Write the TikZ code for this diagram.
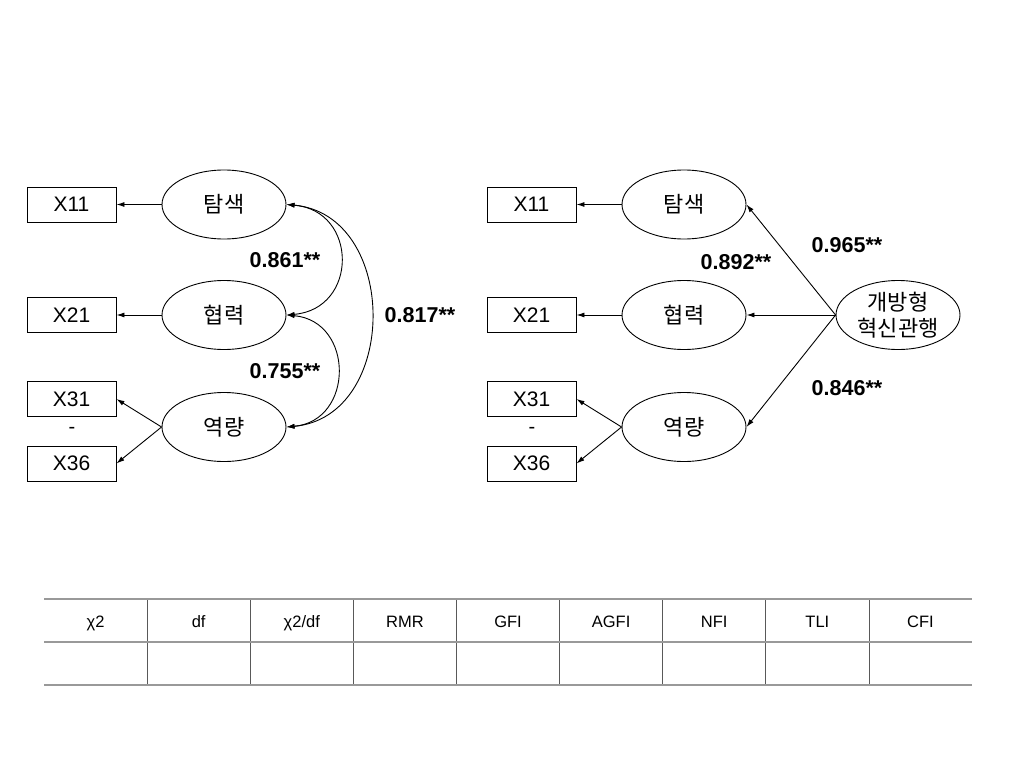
\documentclass[tikz,border=0pt]{standalone}
\usepackage{fontspec}
\setmainfont{Liberation Sans}
\newfontfamily\kr{Noto Sans CJK KR}
\usetikzlibrary{arrows.meta,shapes.geometric}
\begin{document}
\begin{tikzpicture}[x=1pt,y=-1pt,
 obs/.style={draw, line width=0.9pt, minimum width=89pt, minimum height=35pt, inner sep=0pt, font=\fontsize{21}{25}\selectfont},
 lat/.style={draw, ellipse, line width=0.9pt, minimum width=124pt, minimum height=69pt, inner sep=0pt, font=\kr\fontsize{22}{26}\selectfont},
 coef/.style={font=\bfseries\fontsize{21.5}{25}\selectfont, inner sep=0pt},
 arr/.style={line width=0.9pt, -{Latex[length=8pt,width=5pt]}},
 barr/.style={line width=0.9pt, {Latex[length=8pt,width=5pt]}-{Latex[length=8pt,width=5pt]}},
 hd/.style={font=\fontsize{16.5}{19}\selectfont, inner sep=0pt, text height=12pt, text depth=3.5pt},
 dashtxt/.style={font=\fontsize{20}{24}\selectfont, inner sep=0pt},
 hline/.style={draw=black!40, line width=1.4pt},
 vline/.style={draw=black!65, line width=0.7pt}
]
\useasboundingbox (0,0) rectangle (1024,768);

% ---------- left model ----------
\node[obs] (lx11) at (71.5,204.5) {X11};
\node[obs] (lx21) at (71.5,315) {X21};
\node[obs] (lx31) at (71.5,399) {X31};
\node[obs] (lx36) at (71.5,463.5) {X36};
\node[dashtxt] (ldash) at (72,430) {-};

\node[lat] (lt) at (224,204.5) {탐색};
\node[lat] (lh) at (224,315) {협력};
\node[lat] (ly) at (224,427) {역량};

\draw[arr] (lt.west) -- (lx11.east);
\draw[arr] (lh.west) -- (lx21.east);
\draw[arr] (ly.west) -- (lx31.east);
\draw[arr] (ly.west) -- (lx36.east);

\draw[barr] (lt.east) .. controls +(72,6) and +(72,-6) .. (lh.east);
\draw[barr] (lh.east) .. controls +(68,6) and +(68,-6) .. (ly.east);
\draw[barr] (lt.east) .. controls +(113,10) and +(113,-10) .. (ly.east);

\node[coef] (c861) at (285,260) {0.861**};
\node[coef] (c755) at (285,371) {0.755**};
\node[coef] (c817) at (420,315) {0.817**};

% ---------- right model ----------
\node[obs] (rx11) at (531.5,204.5) {X11};
\node[obs] (rx21) at (531.5,315) {X21};
\node[obs] (rx31) at (531.5,399) {X31};
\node[obs] (rx36) at (531.5,463.5) {X36};
\node[dashtxt] (rdash) at (532,430) {-};

\node[lat] (rt) at (684,204.5) {탐색};
\node[lat] (rh) at (684,315) {협력};
\node[lat] (ry) at (684,427) {역량};
\node[lat, align=center, font=\kr\fontsize{22}{26}\selectfont] (g) at (898,315) {개방형\\혁신관행};

\draw[arr] (rt.west) -- (rx11.east);
\draw[arr] (rh.west) -- (rx21.east);
\draw[arr] (ry.west) -- (rx31.east);
\draw[arr] (ry.west) -- (rx36.east);

\draw[arr] (g.west) -- (rt.east);
\draw[arr] (g.west) -- (rh.east);
\draw[arr] (g.west) -- (ry.east);

\node[coef] (c965) at (847,245) {0.965**};
\node[coef] (c892) at (736,262) {0.892**};
\node[coef] (c846) at (847,388) {0.846**};

% ---------- fit table ----------
\foreach \k in {1,...,8} {
  \draw[vline] ({44+103.111*\k},599) -- ({44+103.111*\k},685);
}
\draw[hline] (44,599) -- (972,599);
\draw[hline] (44,642) -- (972,642);
\draw[hline] (44,685) -- (972,685);

\node[hd] (h1) at ({44+103.111*0.5},623) {χ2};
\node[hd] (h2) at ({44+103.111*1.5},623) {df};
\node[hd] (h3) at ({44+103.111*2.5},623) {χ2/df};
\node[hd] (h4) at ({44+103.111*3.5},623) {RMR};
\node[hd] (h5) at ({44+103.111*4.5},623) {GFI};
\node[hd] (h6) at ({44+103.111*5.5},623) {AGFI};
\node[hd] (h7) at ({44+103.111*6.5},623) {NFI};
\node[hd] (h8) at ({44+103.111*7.5},623) {TLI};
\node[hd] (h9) at ({44+103.111*8.5},623) {CFI};
\end{tikzpicture}
\end{document}
